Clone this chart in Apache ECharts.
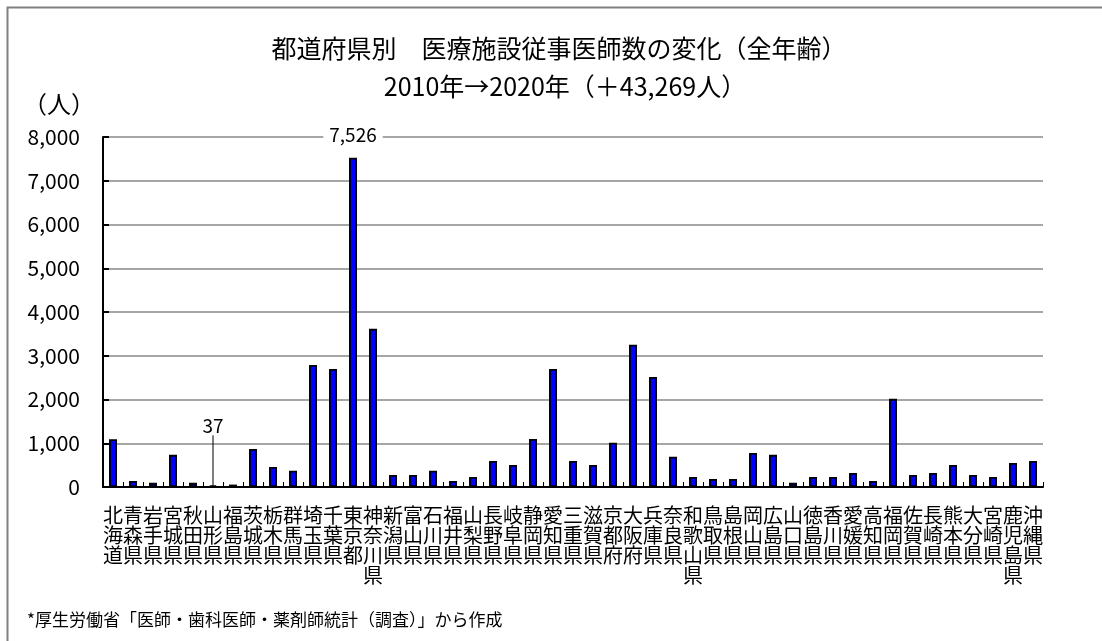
<!DOCTYPE html>
<html>
<head>
<meta charset="utf-8">
<style>
  html, body { margin: 0; padding: 0; background: #fff; }
  #chart { width: 1102px; height: 641px; }
</style>
<script src="https://cdn.jsdelivr.net/npm/echarts@6/dist/echarts.min.js"></script>
</head>
<body>
<div id="chart"></div>
<script>
// 都道府県別 医療施設従事医師数の増減（2010年→2020年）
const prefectures = [
  '北海道','青森県','岩手県','宮城県','秋田県','山形県','福島県','茨城県','栃木県','群馬県',
  '埼玉県','千葉県','東京都','神奈川県','新潟県','富山県','石川県','福井県','山梨県','長野県',
  '岐阜県','静岡県','愛知県','三重県','滋賀県','京都府','大阪府','兵庫県','奈良県','和歌山県',
  '鳥取県','島根県','岡山県','広島県','山口県','徳島県','香川県','愛媛県','高知県','福岡県',
  '佐賀県','長崎県','熊本県','大分県','宮崎県','鹿児島県','沖縄県'
];
const doctorIncrease = [
  1090, 140, 95, 735, 95, 37, 55, 870, 460, 370,
  2790, 2700, 7526, 3615, 275, 275, 370, 140, 230, 595,
  505, 1100, 2700, 595, 505, 1010, 3250, 2515, 690, 230,
  185, 185, 780, 735, 95, 230, 230, 320, 140, 2015,
  275, 320, 505, 275, 230, 550, 595
];
const yTicks = [0, 1000, 2000, 3000, 4000, 5000, 6000, 7000, 8000];

const FONT = 'Noto Sans CJK JP';

const chart = echarts.init(document.getElementById('chart'), null, { renderer: 'canvas' });

const barData = doctorIncrease.map((v, i) => {
  const name = prefectures[i];
  if (name === '東京都') {
    return {
      value: v,
      label: {
        show: true, position: 'top', distance: 13,
        backgroundColor: '#fff', padding: [0, 6]
      }
    };
  }
  if (name === '山形県') {
    return {
      value: v,
      label: { show: true, position: 'top', distance: 4 },
      labelLine: { show: true, lineStyle: { color: '#000', width: 1 } }
    };
  }
  return v;
});

chart.setOption({
  animation: false,
  backgroundColor: '#fff',
  textStyle: { fontFamily: FONT },
  title: [
    {
      text: '都道府県別　医療施設従事医師数の変化（全年齢）',
      left: 554, top: 31, textAlign: 'center',
      textStyle: { fontFamily: FONT, fontSize: 25, fontWeight: 'normal', color: '#000' }
    },
    {
      text: '2010年→2020年（＋43,269人）',
      left: 560, top: 69, textAlign: 'center',
      textStyle: { fontFamily: FONT, fontSize: 25, fontWeight: 'normal', color: '#000' }
    }
  ],
  grid: { left: 103, right: 59, top: 137, bottom: 154, containLabel: false },
  xAxis: {
    type: 'category',
    data: prefectures,
    axisLine: { lineStyle: { color: '#000', width: 2 } },
    axisTick: {
      show: true, inside: true, length: 5, interval: 0,
      lineStyle: { color: '#000', width: 1 }
    },
    axisLabel: {
      interval: 0, margin: 18, color: '#000',
      fontFamily: FONT, fontSize: 20, lineHeight: 20,
      formatter: v => v.split('').join('\n')
    }
  },
  yAxis: {
    type: 'value',
    min: yTicks[0], max: yTicks[yTicks.length - 1], interval: 1000,
    name: '（人）',
    nameLocation: 'end',
    nameGap: 33,
    nameTextStyle: {
      fontFamily: FONT, fontSize: 24, color: '#000',
      align: 'right', verticalAlign: 'middle', padding: [0, 8, 0, 0]
    },
    axisLine: { show: true, lineStyle: { color: '#000', width: 2 } },
    axisTick: { show: true, inside: true, length: 6, lineStyle: { color: '#000', width: 2 } },
    axisLabel: {
      margin: 23, color: '#000', fontFamily: FONT, fontSize: 21,
      formatter: v => v.toLocaleString('en-US')
    },
    splitLine: { show: true, lineStyle: { color: '#a6a6a6', width: 2 } }
  },
  series: [{
    type: 'bar',
    data: barData,
    barWidth: 8,
    itemStyle: { color: '#0000ff', borderColor: '#000', borderWidth: 1.8 },
    label: {
      show: false, color: '#000', fontFamily: FONT, fontSize: 19,
      formatter: p => p.value.toLocaleString('en-US')
    },
    labelLayout: p => (prefectures[p.dataIndex] === '山形県' ? { dy: -46 } : {}),
    labelLine: { show: false }
  }],
  graphic: [
    {
      type: 'rect', silent: true,
      shape: { x: 7.5, y: 7.5, width: 1200, height: 1000 },
      style: { fill: 'none', stroke: '#808080', lineWidth: 2 }
    },
    {
      type: 'text', left: 27, top: 611,
      style: {
        text: '*厚生労働省「医師・歯科医師・薬剤師統計（調査）」から作成',
        fontFamily: FONT, fontSize: 17, fill: '#000'
      }
    }
  ]
});
</script>
</body>
</html>
